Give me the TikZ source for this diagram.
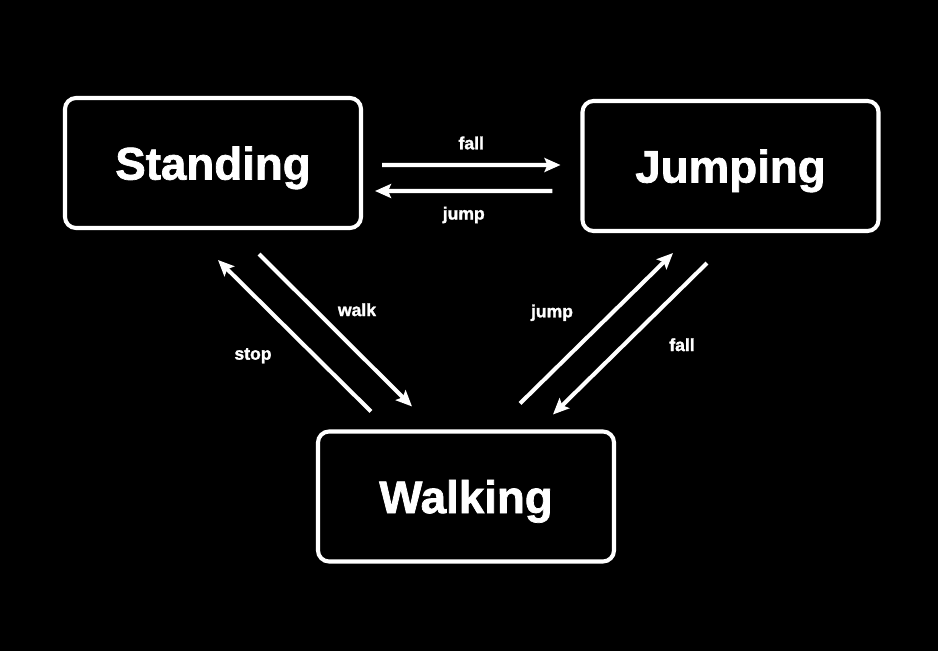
\documentclass[tikz,border=0pt]{standalone}
\usepackage{fontspec}
\setmainfont[BoldFeatures={FakeBold=1.6}]{Liberation Sans}
\usepackage{xcolor}
\usepackage{tikz}
\usetikzlibrary{arrows.meta, positioning}
\tikzstyle{state}    = [rectangle, rounded corners=0.22cm, minimum width=5.92cm,
                        minimum height=2.6cm, text centered, draw=white, text depth=0pt,
                        line width=2.3pt, text=white, font=\fontsize{26}{30}\selectfont\bfseries]
\tikzstyle{arrow}    = [white, line width=2.3pt, -{Stealth[length=3.2mm, width=2.8mm, inset=0.6mm]}]
\tikzstyle{trans}    = [text=white, font=\fontsize{10}{12}\selectfont\bfseries]

\begin{document}
\begin{tikzpicture}
  \fill[black] (0,0) rectangle (18.76,-13.02);
  \useasboundingbox (0,0) rectangle (18.76,-13.02);

  \node[state] (standing) at (4.26,-3.26)  {Standing};
  \node[state] (jumping)  at (14.61,-3.32) {Jumping};
  \node[state] (walking)  at (9.32,-9.93)  {Walking};

  % standing <-> jumping
  \draw[arrow] ([shift={(0.38,-0.04)}]standing.east) -- ([shift={(-0.40,0.02)}]jumping.west)
        node[trans, midway, yshift=0.44cm] {fall};
  \draw[arrow] ([shift={(-0.56,-0.50)}]jumping.west) -- ([shift={(0.24,-0.56)}]standing.east)
        node[trans, midway, yshift=-0.48cm] {jump};

  % standing <-> walking
  \draw[arrow] ([shift={(-1.90,0.36)}]walking.north) -- ([shift={(0.10,-0.60)}]standing.south)
        node[trans, midway, shift={(-0.83,-0.40)}] {stop};
  \draw[arrow] ([shift={(0.92,-0.48)}]standing.south) -- ([shift={(-1.08,0.46)}]walking.north)
        node[trans, midway, shift={(0.43,0.41)}] {walk};

  % walking <-> jumping
  \draw[arrow] ([shift={(1.08,0.52)}]walking.north) -- ([shift={(-1.15,-0.40)}]jumping.south)
        node[trans, midway, shift={(-0.89,0.31)}] {jump};
  \draw[arrow] ([shift={(-0.47,-0.60)}]jumping.south) -- ([shift={(1.74,0.30)}]walking.north)
        node[trans, midway, shift={(1.04,-0.12)}] {fall};
\end{tikzpicture}
\end{document}
